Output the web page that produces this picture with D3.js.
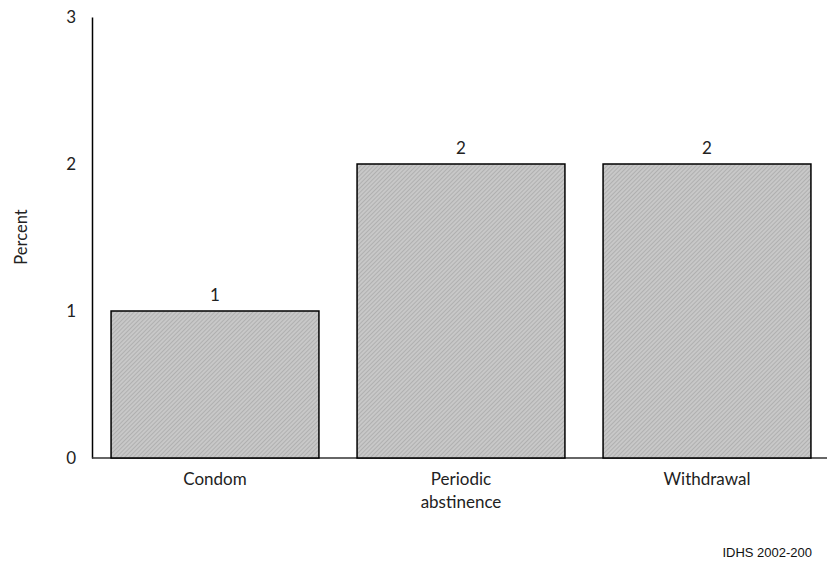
<!DOCTYPE html>
<html><head><meta charset="utf-8">
<script src="https://cdn.jsdelivr.net/npm/d3@7"></script>
<style>body{margin:0;background:#fff}</style>
</head><body>
<script>
const categories = ["Condom", "Periodic\nabstinence", "Withdrawal"];
const values = [1, 2, 2];
const yTicks = [0, 1, 2, 3];
const sourceNote = "IDHS 2002-200";

const W = 827, H = 568;
const svg = d3.select("body").append("svg").attr("width", W).attr("height", H);
const font = "Lato, 'Open Sans', sans-serif";

const defs = svg.append("defs");
const pat = defs.append("pattern").attr("id","hatch").attr("patternUnits","userSpaceOnUse")
  .attr("width",3).attr("height",3).attr("patternTransform","rotate(45)");
pat.append("rect").attr("width",3).attr("height",3).attr("fill","#c8c8c8");
pat.append("line").attr("x1",0).attr("y1",0).attr("x2",0).attr("y2",3).attr("stroke","#a0a0a0").attr("stroke-width",1.2);

const x = d3.scaleBand().domain(categories).range([92, 830]).paddingInner(0.155).paddingOuter(0.0775);
const y = d3.scaleLinear().domain([0, 3]).range([458, 17]);

// axes
const yAxis = d3.axisLeft(y).tickValues(yTicks).tickSize(0).tickPadding(12).tickFormat(d3.format("d"));
const gy = svg.append("g").attr("transform","translate(92,0)").call(yAxis);
gy.select(".domain").attr("stroke","#000").attr("stroke-width",1.5);
gy.selectAll("text").attr("font-family",font).attr("font-size",17).attr("fill","#222").attr("dx",-4);

svg.append("line").attr("x1",92).attr("x2",838).attr("y1",y(0)).attr("y2",y(0)).attr("stroke","#333").attr("stroke-width",1.5);

// bars
svg.selectAll("rect.bar").data(values).join("rect").attr("class","bar")
  .attr("x",(d,i)=>x(categories[i])).attr("width",x.bandwidth())
  .attr("y",d=>y(d)).attr("height",d=>y(0)-y(d))
  .attr("fill","url(#hatch)").attr("stroke","#000").attr("stroke-width",1.5);

// value labels
svg.selectAll("text.val").data(values).join("text").attr("class","val")
  .attr("x",(d,i)=>x(categories[i])+x.bandwidth()/2).attr("y",d=>y(d)-10)
  .attr("text-anchor","middle").attr("font-family",font).attr("font-size",17).attr("fill","#222")
  .text(d=>d);

// category labels
categories.forEach(c=>{
  const t = svg.append("text").attr("x",x(c)+x.bandwidth()/2).attr("y",485)
    .attr("text-anchor","middle").attr("font-family",font).attr("font-size",17).attr("fill","#222");
  c.split("\n").forEach((line,j)=>{
    t.append("tspan").attr("x",x(c)+x.bandwidth()/2).attr("dy", j===0?0:23).text(line);
  });
});

// y title
svg.append("text").attr("transform","translate(27,237) rotate(-90)").attr("text-anchor","middle")
  .attr("font-family",font).attr("font-size",16.5).attr("fill","#222").text("Percent");

// source
svg.append("text").attr("x",812).attr("y",557).attr("text-anchor","end")
  .attr("font-family","'Liberation Sans', Arial, sans-serif").attr("font-size",13).attr("fill","#111").text(sourceNote);
</script>
</body></html>
